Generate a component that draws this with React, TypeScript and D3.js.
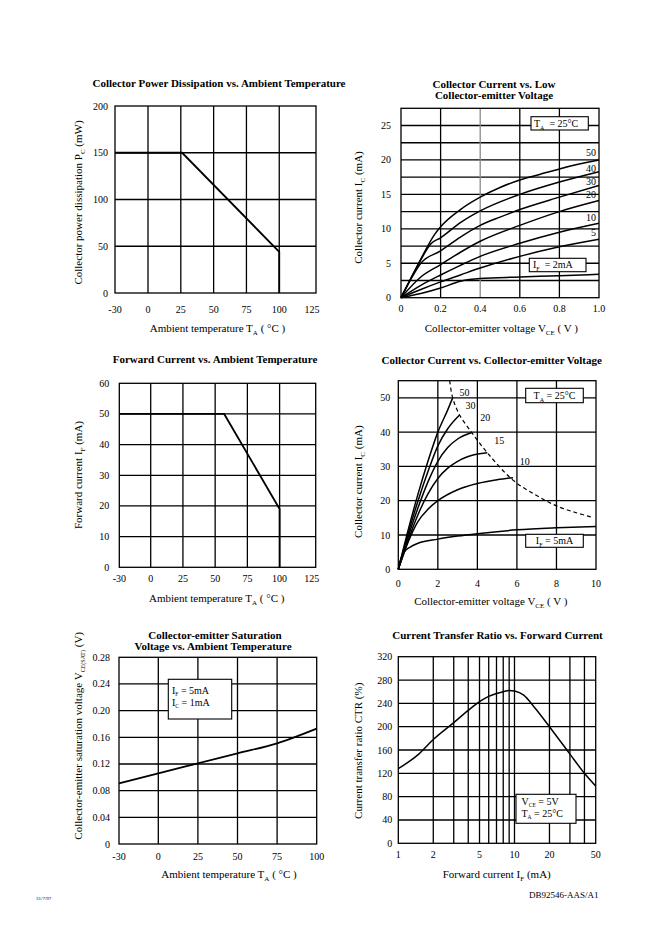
import React from 'react';
import * as d3 from 'd3';

const SERIF = '"Liberation Serif","Times New Roman",Times,serif';

// ---------------- DATA ----------------
// 1. Collector power dissipation vs ambient temperature
const pdTempTicks = [-30, 0, 25, 50, 75, 100, 125];
const pdPowerTicks = [0, 50, 100, 150, 200];
const pdTempGrid = [0, 25, 50, 75, 100];
const pdPowerGrid = [50, 100, 150];
const pdTemp = [-30, 26, 100, 100];
const pdPower = [150, 150, 44, 0];

// 2. Collector current vs low collector-emitter voltage
const lvVceTicks = [0, 0.2, 0.4, 0.6, 0.8, 1.0];
const lvVceLabels = ['0', '0.2', '0.4', '0.6', '0.8', '1.0'];
const lvIcTicks = [0, 5, 10, 15, 20, 25];
const lvVceGrid = [0.2, 0.4, 0.6, 0.8];
const lvIcGrid = [2.5, 5, 7.5, 10, 12.5, 15, 17.5, 20, 22.5, 25];
const lvVce50 = [0, 0.05, 0.1, 0.17, 0.2, 0.3, 0.4, 0.5, 0.6, 0.7, 0.8, 0.9, 1.0];
const lvIc50 = [0, 2.8, 5.6, 9.2, 10.3, 12.8, 14.6, 16.0, 17.1, 17.9, 18.7, 19.4, 20.0];
const lvVce40 = [0, 0.05, 0.1, 0.15, 0.2, 0.3, 0.4, 0.6, 0.8, 1.0];
const lvIc40 = [0, 2.8, 5.5, 7.8, 8.7, 10.9, 12.6, 15.0, 16.8, 18.3];
const lvVce30 = [0, 0.05, 0.1, 0.2, 0.3, 0.4, 0.5, 0.6, 0.8, 1.0];
const lvIc30 = [0, 2.7, 5.0, 6.8, 8.8, 10.5, 11.7, 12.8, 14.6, 16.3];
const lvVce20 = [0, 0.1, 0.2, 0.3, 0.4, 0.6, 0.8, 1.0];
const lvIc20 = [0, 3.0, 4.8, 6.6, 8.2, 10.5, 12.5, 14.1];
const lvVce10 = [0, 0.1, 0.2, 0.3, 0.4, 0.6, 0.8, 1.0];
const lvIc10 = [0, 1.8, 3.3, 4.7, 6.0, 7.9, 9.5, 10.8];
const lvVce5 = [0, 0.1, 0.2, 0.3, 0.4, 0.6, 0.8, 1.0];
const lvIc5 = [0, 1.2, 2.3, 3.3, 4.3, 6.0, 7.4, 8.5];
const lvVce2 = [0, 0.1, 0.2, 0.3, 0.4, 0.6, 0.8, 1.0];
const lvIc2 = [0, 0.6, 1.4, 2.4, 2.8, 3.0, 3.2, 3.4];
const lvCurveLabels = ['50', '40', '30', '20', '10', '5'];
const lvCurveLabelIc = [21.06, 18.7, 16.9, 15.0, 11.6, 9.5];

// 3. Forward current vs ambient temperature
const fcTempTicks = [-30, 0, 25, 50, 75, 100, 125];
const fcIfTicks = [0, 10, 20, 30, 40, 50, 60];
const fcTempGrid = [0, 25, 50, 75, 100];
const fcIfGrid = [10, 20, 30, 40, 50];
const fcTemp = [-30, 57, 100, 100];
const fcIf = [50, 50, 19, 0];

// 4. Collector current vs collector-emitter voltage
const ccVceTicks = [0, 2, 4, 6, 8, 10];
const ccIcTicks = [0, 10, 20, 30, 40, 50];
const ccVceGrid = [2, 4, 6, 8];
const ccIcGrid = [10, 20, 30, 40, 50];
const ccVce50 = [0, 0.5, 1, 1.5, 2, 2.5, 2.75];
const ccIc50 = [0, 11.5, 22, 31.5, 40, 46.5, 50];
const ccVce30 = [0, 0.5, 1, 1.5, 2, 2.5, 3.1];
const ccIc30 = [0, 10.5, 20, 28.5, 36, 41, 45];
const ccVce20 = [0, 0.5, 1, 1.5, 2, 2.5, 3, 3.7];
const ccIc20 = [0, 9.5, 18, 25.5, 31.5, 35.5, 38, 39.8];
const ccVce15 = [0, 0.5, 1, 1.5, 2, 2.5, 3, 3.5, 4, 4.5];
const ccIc15 = [0, 8.5, 16, 22, 26.5, 29.5, 31.5, 32.8, 33.6, 34];
const ccVce10 = [0, 0.5, 1, 1.5, 2, 3, 4, 5, 5.8];
const ccIc10 = [0, 8, 14, 17.5, 20, 23.2, 25, 26.1, 26.7];
const ccVce5 = [0, 0.1, 0.3, 0.6, 1, 2, 3, 4, 6, 8, 10];
const ccIc5 = [0, 2.5, 5, 6.5, 7.6, 8.8, 9.7, 10.4, 11.5, 12.1, 12.5];
const ccMaxVce = [2.6, 2.75, 3.1, 3.7, 4.5, 5.8, 7, 8, 9, 9.8];
const ccMaxIc = [55, 50, 45, 40, 34, 26, 21.5, 18.5, 16.5, 15.2];
const ccCurveLabels = ['50', '30', '20', '15', '10'];
const ccCurveLabelVce = [3.35, 3.65, 4.4, 5.1, 6.4];
const ccCurveLabelIc = [51.5, 47.8, 44.3, 37.5, 31.3];

// 5. Collector-emitter saturation voltage vs ambient temperature
const csTempTicks = [-30, 0, 25, 50, 75, 100];
const csVTicks = [0, 0.04, 0.08, 0.12, 0.16, 0.2, 0.24, 0.28];
const csVLabels = ['0', '0.04', '0.08', '0.12', '0.16', '0.20', '0.24', '0.28'];
const csTempGrid = [0, 25, 50, 75];
const csVGrid = [0.04, 0.08, 0.12, 0.16, 0.2, 0.24];
const csTemp = [-30, 0, 25, 50, 75, 100];
const csV = [0.091, 0.106, 0.121, 0.136, 0.151, 0.173];

// 6. Current transfer ratio vs forward current
const ctIfTicks = [1, 2, 5, 10, 20, 50];
const ctCtrTicks = [0, 40, 80, 120, 160, 200, 240, 280, 320];
const ctIfGrid = [2, 3, 4, 5, 6, 7, 8, 9, 10, 20, 30, 40];
const ctCtrGrid = [40, 80, 120, 160, 200, 240, 280];
const ctIf = [1, 1.5, 2, 3, 4, 5, 6, 7, 8, 9, 10, 12, 15, 20, 30, 40, 50];
const ctCtr = [128, 153, 178, 207, 228, 243, 252, 257, 260, 262, 261, 254, 232, 200, 153, 120, 98];

// ---------------- HELPERS ----------------
type Scale = (v: number) => number;

function Rich({ text, sub = 7, shift = 3 }: { text: string; sub?: number; shift?: number }) {
  const parts = text.split(/(_\{[^}]*\})/);
  const out: any[] = [];
  let shifted = false;
  parts.forEach((p, i) => {
    if (p.startsWith('_{')) {
      out.push(
        <tspan key={i} fontSize={sub} dy={shift}>
          {p.slice(2, -1)}
        </tspan>
      );
      shifted = true;
    } else if (p) {
      out.push(
        <tspan key={i} dy={shifted ? -shift : 0}>
          {p}
        </tspan>
      );
      shifted = false;
    }
  });
  return <>{out}</>;
}

function path(xs: number[], ys: number[], x: Scale, y: Scale, curve: any = d3.curveLinear) {
  return (
    d3
      .line<number>()
      .x((_, i) => x(xs[i]))
      .y((_, i) => y(ys[i]))
      .curve(curve)(xs) || ''
  );
}

interface PanelProps {
  x: any;
  y: any;
  xGrid: number[];
  yGrid: number[];
  xTicks: number[];
  xLabels?: string[];
  yTicks: number[];
  yLabels?: string[];
  xLabelDy: number;
  yLabelGap: number;
  grayX?: number[];
  children?: any;
}

function Panel({ x, y, xGrid, yGrid, xTicks, xLabels, yTicks, yLabels, xLabelDy, yLabelGap, grayX = [], children }: PanelProps) {
  const xr = x.range();
  const yr = y.range();
  const x0 = xr[0];
  const x1 = xr[xr.length - 1];
  const y0 = yr[yr.length - 1];
  const y1 = yr[0];
  return (
    <g>
      {yGrid.map((v) => (
        <line key={'yg' + v} x1={x0} x2={x1} y1={y(v)} y2={y(v)} stroke="#000" strokeWidth={1.3} />
      ))}
      {xGrid.map((v) => (
        <line
          key={'xg' + v}
          x1={x(v)}
          x2={x(v)}
          y1={y0}
          y2={y1}
          stroke={grayX.includes(v) ? '#8a8a8a' : '#000'}
          strokeWidth={1.3}
        />
      ))}
      <rect x={x0} y={y0} width={x1 - x0} height={y1 - y0} fill="none" stroke="#000" strokeWidth={1.3} />
      {children}
      {xTicks.map((v, i) => (
        <text key={'xt' + v} x={x(v)} y={y1 + xLabelDy} textAnchor="middle" fontSize={10}>
          {xLabels ? xLabels[i] : String(v)}
        </text>
      ))}
      {yTicks.map((v, i) => (
        <text key={'yt' + v} x={x0 - yLabelGap} y={y(v) + 3.5} textAnchor="end" fontSize={10}>
          {yLabels ? yLabels[i] : String(v)}
        </text>
      ))}
    </g>
  );
}

function Box({ x0, y0, x1, y1 }: { x0: number; y0: number; x1: number; y1: number }) {
  return <rect x={x0} y={y0} width={x1 - x0} height={y1 - y0} fill="#fff" stroke="#000" strokeWidth={1.1} />;
}

const CURVE = { fill: 'none', stroke: '#000', strokeWidth: 1.5 };
const TITLE = 11;

export default function App() {
  // scales
  const x1s = d3.scaleLinear().domain([-30, 0, 128]).range([115, 148, 316]);
  const y1s = d3.scaleLinear().domain([0, 200]).range([293, 106]);

  const x2s = d3.scaleLinear().domain([0, 1]).range([401, 599]);
  const y2s = d3.scaleLinear().domain([0, 27.5]).range([297.7, 108.3]);

  const x3s = d3.scaleLinear().domain([-30, 0, 128]).range([119.3, 150.7, 315.7]);
  const y3s = d3.scaleLinear().domain([0, 60]).range([567.3, 383.3]);

  const x4s = d3.scaleLinear().domain([0, 10]).range([398.3, 596]);
  const y4s = d3.scaleLinear().domain([0, 55]).range([569.3, 380.7]);

  const x5s = d3.scaleLinear().domain([-30, 0, 100]).range([119, 158.3, 316.7]);
  const y5s = d3.scaleLinear().domain([0, 0.28]).range([844, 657.3]);

  const x6s = d3.scaleLog().domain([1, 50]).range([398.3, 595.7]);
  const y6s = d3.scaleLinear().domain([0, 320]).range([843.3, 656.7]);

  const mono = d3.curveMonotoneX;

  const lvSeries = [
    [lvVce50, lvIc50],
    [lvVce40, lvIc40],
    [lvVce30, lvIc30],
    [lvVce20, lvIc20],
    [lvVce10, lvIc10],
    [lvVce5, lvIc5],
    [lvVce2, lvIc2],
  ];
  const ccSeries = [
    [ccVce50, ccIc50],
    [ccVce30, ccIc30],
    [ccVce20, ccIc20],
    [ccVce15, ccIc15],
    [ccVce10, ccIc10],
    [ccVce5, ccIc5],
  ];

  return (
    <svg
      width={662}
      height={935}
      style={{ position: 'absolute', left: 0, top: 0, background: '#fff' }}
      fontFamily={SERIF}
    >
      <rect x={0} y={0} width={662} height={935} fill="#fff" />

      {/* ---------- Panel 1 ---------- */}
      <text x={219} y={87} textAnchor="middle" fontSize={TITLE} fontWeight="bold">
        Collector Power Dissipation vs. Ambient Temperature
      </text>
      <Panel
        x={x1s}
        y={y1s}
        xGrid={pdTempGrid}
        yGrid={pdPowerGrid}
        xTicks={pdTempTicks}
        yTicks={pdPowerTicks}
        xLabelDy={20}
        yLabelGap={7}
      >
        <path d={path(pdTemp, pdPower, x1s, y1s)} {...CURVE} strokeWidth={1.8} />
      </Panel>
      <text x={217.5} y={331.5} textAnchor="middle" fontSize={11}>
        <Rich text={'Ambient temperature T_{A} ( °C )'} />
      </text>
      <text transform="translate(82,202.5) rotate(-90)" textAnchor="middle" fontSize={11}>
        <Rich text={'Collector power dissipation P_{C} (mW)'} />
      </text>

      {/* ---------- Panel 2 ---------- */}
      <text x={494} y={87.5} textAnchor="middle" fontSize={TITLE} fontWeight="bold">
        Collector Current vs. Low
      </text>
      <text x={494} y={99.2} textAnchor="middle" fontSize={TITLE} fontWeight="bold">
        Collector-emitter Voltage
      </text>
      <Panel
        x={x2s}
        y={y2s}
        xGrid={lvVceGrid}
        yGrid={lvIcGrid}
        xTicks={lvVceTicks}
        xLabels={lvVceLabels}
        yTicks={lvIcTicks}
        xLabelDy={14}
        yLabelGap={10}
        grayX={[0.4]}
      >
        {lvSeries.map(([xs, ys], i) => (
          <path key={i} d={path(xs, ys, x2s, y2s, mono)} {...CURVE} />
        ))}
        {lvCurveLabels.map((t, i) => (
          <text key={t} x={596} y={y2s(lvCurveLabelIc[i]) + 3.5} textAnchor="end" fontSize={10}>
            {t}
          </text>
        ))}
        <Box x0={531} y0={116.7} x1={588.3} y1={130} />
        <text x={534} y={126.5} fontSize={10}>
          <Rich text={'T_{A}\u00a0\u00a0= 25°C'} sub={6} />
        </text>
        <Box x0={529.3} y0={258.3} x1={586} y1={271.7} />
        <text x={533} y={268} fontSize={10}>
          <Rich text={'I_{F}\u00a0\u00a0= 2mA'} sub={6} />
        </text>
      </Panel>
      <text x={501.3} y={331.5} textAnchor="middle" fontSize={11}>
        <Rich text={'Collector-emitter voltage V_{CE} ( V )'} />
      </text>
      <text transform="translate(362,207.5) rotate(-90)" textAnchor="middle" fontSize={11}>
        <Rich text={'Collector current I_{C} (mA)'} />
      </text>

      {/* ---------- Panel 3 ---------- */}
      <text x={215} y={362.5} textAnchor="middle" fontSize={TITLE} fontWeight="bold">
        Forward Current vs. Ambient Temperature
      </text>
      <Panel
        x={x3s}
        y={y3s}
        xGrid={fcTempGrid}
        yGrid={fcIfGrid}
        xTicks={fcTempTicks}
        yTicks={fcIfTicks}
        xLabelDy={15}
        yLabelGap={10}
      >
        <path d={path(fcTemp, fcIf, x3s, y3s)} {...CURVE} strokeWidth={1.8} />
      </Panel>
      <text x={216.7} y={601.8} textAnchor="middle" fontSize={11}>
        <Rich text={'Ambient temperature T_{A} ( °C )'} />
      </text>
      <text transform="translate(82,475) rotate(-90)" textAnchor="middle" fontSize={11}>
        <Rich text={'Forward current I_{F} (mA)'} />
      </text>

      {/* ---------- Panel 4 ---------- */}
      <text x={491.7} y={363.5} textAnchor="middle" fontSize={TITLE} fontWeight="bold">
        Collector Current vs. Collector-emitter Voltage
      </text>
      <Panel
        x={x4s}
        y={y4s}
        xGrid={ccVceGrid}
        yGrid={ccIcGrid}
        xTicks={ccVceTicks}
        yTicks={ccIcTicks}
        xLabelDy={17.5}
        yLabelGap={8}
      >
        {ccSeries.map(([xs, ys], i) => (
          <path key={i} d={path(xs, ys, x4s, y4s, mono)} {...CURVE} />
        ))}
        <path
          d={path(ccMaxVce, ccMaxIc, x4s, y4s, d3.curveCatmullRom)}
          fill="none"
          stroke="#000"
          strokeWidth={1.2}
          strokeDasharray="4,3"
        />
        {ccCurveLabels.map((t, i) => (
          <text key={t} x={x4s(ccCurveLabelVce[i])} y={y4s(ccCurveLabelIc[i]) + 3.5} textAnchor="middle" fontSize={10}>
            {t}
          </text>
        ))}
        <Box x0={525.7} y0={388.3} x1={583.3} y1={402.7} />
        <text x={554.5} y={398.8} textAnchor="middle" fontSize={10}>
          <Rich text={'T_{A} = 25°C'} sub={6} />
        </text>
        <Box x0={525.7} y0={534.3} x1={583.3} y1={547.3} />
        <text x={554.5} y={544} textAnchor="middle" fontSize={10}>
          <Rich text={'I_{F} = 5mA'} sub={6} />
        </text>
      </Panel>
      <text x={490.8} y={605} textAnchor="middle" fontSize={11}>
        <Rich text={'Collector-emitter voltage V_{CE} ( V )'} />
      </text>
      <text transform="translate(362,481.7) rotate(-90)" textAnchor="middle" fontSize={11}>
        <Rich text={'Collector current I_{C} (mA)'} />
      </text>

      {/* ---------- Panel 5 ---------- */}
      <text x={215} y={638.5} textAnchor="middle" fontSize={TITLE} fontWeight="bold">
        Collector-emitter Saturation
      </text>
      <text x={213} y={650} textAnchor="middle" fontSize={TITLE} fontWeight="bold">
        Voltage vs. Ambient Temperature
      </text>
      <Panel
        x={x5s}
        y={y5s}
        xGrid={csTempGrid}
        yGrid={csVGrid}
        xTicks={csTempTicks}
        yTicks={csVTicks}
        yLabels={csVLabels}
        xLabelDy={15.5}
        yLabelGap={9}
      >
        <path d={path(csTemp, csV, x5s, y5s, mono)} {...CURVE} strokeWidth={1.7} />
        <Box x0={168.3} y0={679.3} x1={231.7} y1={719} />
        <text x={172} y={694.2} fontSize={10}>
          <Rich text={'I_{F} = 5mA'} sub={5.5} shift={2} />
        </text>
        <text x={172} y={705.7} fontSize={10}>
          <Rich text={'I_{C} = 1mA'} sub={5.5} shift={2} />
        </text>
      </Panel>
      <text x={229} y={877.5} textAnchor="middle" fontSize={11}>
        <Rich text={'Ambient temperature T_{A} ( °C )'} />
      </text>
      <text transform="translate(82,735.8) rotate(-90)" textAnchor="middle" fontSize={11}>
        <Rich text={'Collector-emitter saturation voltage V_{CE(SAT)} (V)'} sub={6} />
      </text>

      {/* ---------- Panel 6 ---------- */}
      <text x={497.5} y={638.5} textAnchor="middle" fontSize={TITLE} fontWeight="bold">
        Current Transfer Ratio vs. Forward Current
      </text>
      <Panel
        x={x6s}
        y={y6s}
        xGrid={ctIfGrid}
        yGrid={ctCtrGrid}
        xTicks={ctIfTicks}
        yTicks={ctCtrTicks}
        xLabelDy={14.7}
        yLabelGap={6}
      >
        <path d={path(ctIf, ctCtr, x6s, y6s, mono)} {...CURVE} />
        <Box x0={516} y0={794.3} x1={576} y1={823.3} />
        <text x={521.5} y={804.7} fontSize={10}>
          <Rich text={'V_{CE} = 5V'} sub={5.5} shift={2} />
        </text>
        <text x={521.5} y={816.7} fontSize={10}>
          <Rich text={'T_{A} = 25°C'} sub={5.5} shift={2} />
        </text>
      </Panel>
      <text x={496.7} y={877.5} textAnchor="middle" fontSize={11}>
        <Rich text={'Forward current I_{F} (mA)'} />
      </text>
      <text transform="translate(362,750.8) rotate(-90)" textAnchor="middle" fontSize={11}>
        <Rich text={'Current transfer ratio CTR (%)'} />
      </text>

      {/* ---------- Footer ---------- */}
      <text x={36} y={900} fontSize={5}>
        31/7/97
      </text>
      <text x={529} y={898} fontSize={9}>
        DB92546-AAS/A1
      </text>
    </svg>
  );
}
